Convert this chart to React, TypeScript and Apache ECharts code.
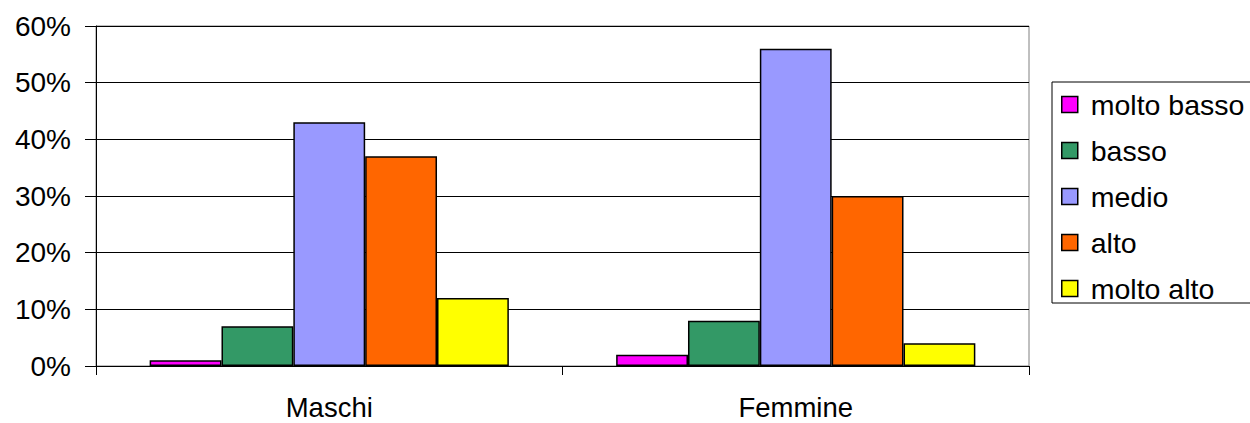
import React, { useEffect, useRef } from "react";
import * as echarts from "echarts";

const categories = ["Maschi", "Femmine"];
const seriesNames = ["molto basso", "basso", "medio", "alto", "molto alto"];
const seriesColors = ["#FF00FF", "#339966", "#9999FF", "#FF6600", "#FFFF00"];
const moltoBasso = [1, 2];
const basso = [7, 8];
const medio = [43, 56];
const alto = [37, 30];
const moltoAlto = [12, 4];
const seriesValues = [moltoBasso, basso, medio, alto, moltoAlto];
const yTicks = [0, 10, 20, 30, 40, 50, 60];

const FONT = "'Liberation Sans', Arial, sans-serif";

export default function App() {
  const ref = useRef<HTMLDivElement>(null);
  useEffect(() => {
    if (!ref.current) return;
    const chart = echarts.init(ref.current, null, { renderer: "svg" });
    chart.setOption({
      animation: false,
      backgroundColor: "#ffffff",
      textStyle: { fontFamily: FONT },
      grid: {
        left: 96,
        right: 221,
        top: 26,
        bottom: 57,
        outerBoundsMode: "none",
        containLabel: false,
        show: true,
        borderColor: "#808080",
        borderWidth: 1,
        backgroundColor: "transparent",
      },
      legend: {
        orient: "vertical",
        left: 1052,
        top: 82,
        data: seriesNames,
        icon: "rect",
        itemWidth: 16,
        itemHeight: 16,
        itemGap: 17,
        itemStyle: { borderColor: "#000", borderWidth: 1.5 },
        borderColor: "#000",
        borderWidth: 1,
        padding: [8, 20, 0, 9],
        textStyle: {
          fontFamily: FONT,
          fontSize: 28.5,
          color: "#000",
          padding: [0, 0, 0, 8],
        },
      },
      xAxis: {
        type: "category",
        data: categories,
        axisLine: { lineStyle: { color: "#000", width: 1 } },
        axisTick: { show: true, length: 9, lineStyle: { color: "#000" } },
        axisLabel: {
          fontFamily: FONT,
          fontSize: 27.5,
          color: "#000",
          margin: 31,
          lineHeight: 20,
        },
      },
      yAxis: {
        type: "value",
        min: yTicks[0],
        max: yTicks[yTicks.length - 1],
        interval: 10,
        axisLine: { show: true, lineStyle: { color: "#000", width: 1 } },
        axisTick: { show: true, length: 11, lineStyle: { color: "#000" } },
        splitLine: { show: true, lineStyle: { color: "#000", width: 1 } },
        axisLabel: {
          fontFamily: FONT,
          fontSize: 28,
          color: "#000",
          margin: 25,
          padding: [6, 0, 0, 0],
          formatter: "{value}%",
        },
      },
      series: seriesNames.map((name, i) => ({
        name,
        type: "bar",
        data: seriesValues[i],
        barGap: "0%",
        barCategoryGap: "23%",
        itemStyle: {
          color: seriesColors[i],
          borderColor: "#000",
          borderWidth: 1.5,
        },
      })),
    });
    return () => chart.dispose();
  }, []);
  return (
    <div
      ref={ref}
      style={{ position: "fixed", left: 0, top: 0, width: 1250, height: 423 }}
    />
  );
}
